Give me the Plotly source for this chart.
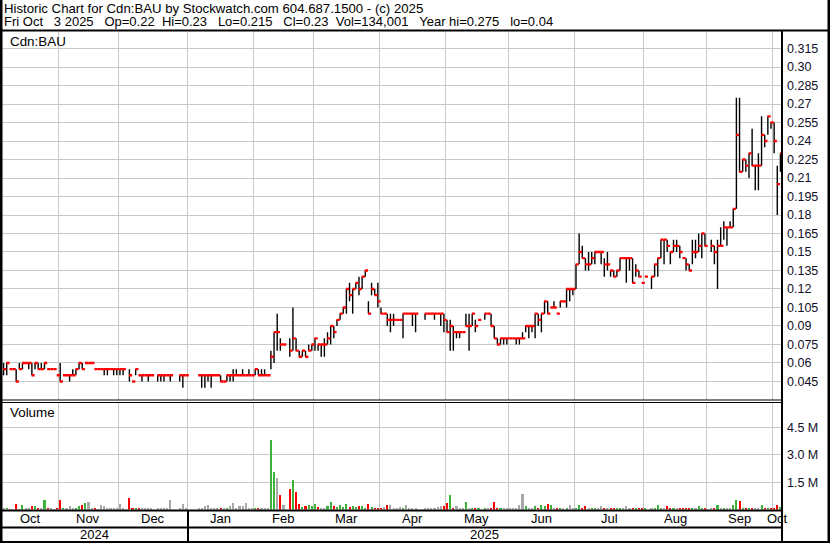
import plotly.graph_objects as go

# ---------------- data (one slot per trading day, Oct 2024 -> Oct 3 2025) ----------------
high = [
    .06, .06, .055, .055, .055, .06, .06, .06, .06, .06, .06, .06, .06, .06, .055, .055, .055, .05,
    .06, .05, .05, .05, .055, .055, .06, .06, .06, .06, .06, .055, .055, .055, .055, .055, .055, .055, .055,
    .055, .055, None, .055, .045, .055, .05, .05, .05, .05, .05, None, .05, .05, .05, .05, .05, None, None, .05, .05, .05,
    None, None, None, .05, .05, .05, .05, .05, .05, .05, .05, .045, .05, .05, .055, .055, .05, .055, .05, .055, .05,
    .055, .055, .055, .055, .05, .07, .085, .10, .08, .075, None, .08, .105, .08, .07, .07, .07, .075, .075,
    .08, .075, .075, .08, .085, .09, .09, .095, .10, .105, .12, .125, .12, .125, .13, .13, .135, .11, .125, .12, .125,
    .105, .10, .10, .10, .10, .095, .095, .10, .10, .10, .10, .10, None, None, .10, .10, .10, .10, .10, .10, .10,
    .095, .095, .09, .085, .085, .085, .10, .10, .10, .095, .095, None, .10, .10, .10, .09, .08, .08, .08, .08,
    .08, .08, .08, .08, .085, .09, .09, .09, .10, .10, .10, .11, .11, .105, .11, .10, .11, .11, .12, .12, .12,
    .14, .165, .155, .145, .15, .15, .15, .15, .15, .145, .15, .135, .135, .135, .145, .145, .145, .145, .145, .14, .135, .125,
    .13, None, .13, .14, .145, .16, .16, .16, .15, .16, .16, .155, .145, .145, .14, .16, .16, .165, .165, .165,
    None, .16, .155, .16, .17, .175, .17, .175, .185, .275, .275, .225, .225, .23, .25, .22, .23, .26, .245, .26, .255,
    .255, .22, .23,
]
low = [
    .05, .05, .055, .055, .045, .055, .055, .06, .055, .05, .055, .055, .055, .055, .055, .055, .055, .05,
    .045, .05, .05, .045, .05, .05, .055, .055, .06, .06, .06, .055, .055, .055, .05, .05, .055, .05, .05,
    .05, .05, None, .045, .045, .05, .05, .045, .05, .045, .05, None, .045, .045, .045, .05, .045, None, None, .045, .04, .05,
    None, None, None, .05, .04, .04, .045, .04, .05, .05, .045, .045, .045, .045, .045, .05, .05, .05, .05, .05, .05,
    .05, .05, .05, .05, .05, .055, .06, .07, .07, .075, None, .065, .07, .07, .065, .065, .065, .07, .07,
    .07, .07, .065, .065, .075, .075, .08, .09, .095, .10, .10, .11, .10, .12, .115, .12, .13, .10, .115, .115, .105,
    .10, .10, .09, .085, .09, .095, .095, .08, .10, .10, .09, .085, None, None, .095, .10, .10, .095, .10, .09, .085,
    .085, .07, .07, .08, .08, .085, .09, .07, .09, .085, .095, None, .095, .10, .09, .08, .075, .075, .075, .075,
    .08, .08, .075, .075, .08, .085, .08, .085, .08, .09, .085, .10, .10, .105, .105, .10, .105, .11, .105, .11, .115,
    .12, .14, .145, .135, .135, .14, .14, .15, .14, .13, .135, .13, .13, .13, .135, .145, .125, .135, .125, .13, .13, .125,
    .13, None, .12, .13, .13, .145, .14, .15, .14, .15, .15, .145, .145, .135, .135, .14, .145, .15, .145, .155,
    None, .15, .14, .12, .155, .16, .155, .17, .17, .185, .215, .215, .215, .21, .22, .20, .20, .22, .235, .245, .25,
    .23, .18, .215,
]
close = [
    .055, .06, .055, .055, .045, .055, .06, .06, .06, .05, .06, .055, .055, .06, .055, .055, .055, .05,
    .045, .05, .05, .05, .05, .055, .06, .055, .06, .06, .06, .055, .055, .055, .055, .055, .055, .055, .055,
    .055, .055, None, .05, .045, .055, .05, .05, .05, .05, .05, None, .05, .05, .05, .05, .05, None, None, .05, .05, .05,
    None, None, None, .05, .05, .05, .05, .05, .05, .05, .045, .045, .05, .05, .05, .05, .05, .05, .05, .05, .05,
    .055, .05, .05, .05, .05, .065, .085, .085, .075, .075, None, .07, .08, .07, .065, .07, .065, .07, .075,
    .08, .075, .075, .075, .08, .09, .085, .095, .10, .105, .12, .115, .12, .125, .12, .13, .135, .10, .12, .115, .11,
    .10, .10, .095, .095, .095, .095, .095, .10, .10, .10, .10, .10, None, None, .10, .10, .10, .10, .10, .10, .095,
    .085, .09, .085, .085, .085, .085, .09, .09, .10, .09, .095, None, .10, .10, .09, .08, .075, .08, .08, .08,
    .08, .08, .08, .08, .08, .09, .09, .09, .10, .095, .10, .11, .10, .105, .105, .10, .11, .11, .12, .12, .12,
    .14, .15, .145, .14, .14, .145, .15, .15, .15, .14, .14, .135, .13, .135, .145, .145, .145, .145, .125, .135, .13, .125,
    .13, None, .13, .14, .145, .16, .16, .155, .15, .155, .155, .15, .145, .14, .135, .15, .15, .155, .165, .155,
    None, .155, .15, .155, .155, .17, .17, .17, .185, .245, .215, .225, .22, .23, .22, .22, .22, .245, .24, .26, .255,
    .24, .205, .23,
]
volume_k = [
    60, 60, 40, 40, 290, 40, 230, 100, 100, 170, 170, 100, 100, 520, 60, 60, 40, 60,
    520, 60, 60, 170, 100, 100, 170, 230, 350, 400, 100, 100, 40, 230, 170, 60, 60, 60, 100,
    290, 60, 0, 635, 100, 100, 100, 60, 60, 100, 60, 0, 60, 60, 60, 60, 520, 0, 0, 60, 290, 60,
    0, 0, 0, 60, 100, 170, 230, 100, 60, 60, 60, 100, 60, 170, 350, 60, 170, 170, 350, 60, 100,
    100, 60, 60, 60, 60, 3830, 2040, 1730, 810, 230, 0, 1150, 1620, 980, 290, 115, 170, 230, 170,
    290, 115, 60, 60, 170, 400, 170, 115, 230, 115, 290, 115, 170, 115, 170, 170, 60, 290, 115, 60, 60,
    60, 115, 230, 230, 60, 60, 115, 60, 230, 60, 60, 60, 0, 0, 60, 60, 60, 60, 115, 170, 170,
    350, 810, 60, 170, 60, 60, 400, 60, 60, 60, 60, 0, 100, 100, 100, 400, 60, 60, 100, 60,
    60, 100, 100, 230, 865, 170, 100, 100, 170, 60, 230, 170, 290, 230, 100, 100, 100, 100, 100, 230, 100,
    100, 230, 100, 170, 100, 60, 60, 60, 170, 100, 100, 60, 60, 60, 60, 100, 170, 100, 60, 60, 60, 60,
    60, 0, 100, 100, 230, 60, 100, 170, 100, 60, 100, 100, 100, 100, 60, 60, 100, 170, 60, 60,
    0, 100, 60, 230, 60, 60, 60, 100, 230, 520, 460, 60, 60, 100, 100, 100, 60, 230, 100, 60, 100,
    100, 230, 134,
]
month_labels = ["Oct", "Nov", "Dec", "Jan", "Feb", "Mar", "Apr", "May", "Jun", "Jul", "Aug", "Sep", "Oct"]
month_starts = [0, 18, 37, 59, 80, 99, 120, 141, 161, 182, 204, 224, 245]
year_labels = ["2024", "2025"]
year_starts = [0, 59]
price_ticks = [0.315, 0.30, 0.285, 0.27, 0.255, 0.24, 0.225, 0.21, 0.195, 0.18, 0.165, 0.15,
               0.135, 0.12, 0.105, 0.09, 0.075, 0.06, 0.045]
price_ticktext = ["0.315", "0.30", "0.285", "0.27", "0.255", "0.24", "0.225", "0.21", "0.195", "0.18",
                  "0.165", "0.15", "0.135", "0.12", "0.105", "0.09", "0.075", "0.06", "0.045"]
vol_ticks = [1.5e6, 3.0e6, 4.5e6]
vol_ticktext = ["1.5 M", "3.0 M", "4.5 M"]
NB = "\u00a0"
header1 = "Historic Chart for Cdn:BAU by Stockwatch.com 604.687.1500 - (c) 2025"
header2 = ("Fri Oct" + NB * 3 + "3 2025" + NB * 3 + "Op=0.22" + NB * 2 + "Hi=0.23" + NB * 3 +
           "Lo=0.215" + NB * 3 + "Cl=0.23" + NB * 2 + "Vol=134,001" + NB * 3 + "Year hi=0.275" +
           NB * 3 + "lo=0.04")

# ---------------- figure ----------------
W, H = 830, 543
N = len(close)
FONT = "Liberation Sans, Arial, sans-serif"
GRID = "#c8c8c8"
TXT = "#101028"


def px(x):
    return x / W


def py(y):
    return 1 - y / H


hl_x, hl_y, cl_x, cl_y = [], [], [], []
for i in range(N):
    if close[i] is None:
        continue
    if high[i] != low[i]:
        hl_x += [i, i, None]
        hl_y += [low[i], high[i], None]
    cl_x += [i - 0.12, i + 0.88, None]
    cl_y += [close[i], close[i], None]

vol = [v * 1000 for v in volume_k]
vol_colors = []
prev = None
for c in close:
    if c is None or prev is None or c == prev:
        vol_colors.append("#a8a8a8")
    elif c > prev:
        vol_colors.append("#3cb43c")
    else:
        vol_colors.append("#ff0000")
    if c is not None:
        prev = c

fig = go.Figure()
fig.add_trace(go.Scatter(x=hl_x, y=hl_y, mode="lines", line=dict(color="black", width=1.4),
                         hoverinfo="skip", showlegend=False, xaxis="x", yaxis="y"))
fig.add_trace(go.Scatter(x=cl_x, y=cl_y, mode="lines", line=dict(color="#ff0000", width=2.4),
                         hoverinfo="skip", showlegend=False, xaxis="x", yaxis="y"))
fig.add_trace(go.Bar(x=list(range(N)), y=vol, marker=dict(color=vol_colors, line=dict(width=0)),
                     width=0.66, showlegend=False, xaxis="x2", yaxis="y2"))

bounds = [s - 0.5 for s in month_starts[1:]]
xcommon = dict(range=[-0.5, N - 0.5], domain=[px(2), px(782)], tickvals=bounds,
               showticklabels=False, ticks="", showgrid=True, gridcolor=GRID, gridwidth=1,
               zeroline=False, showline=False, fixedrange=True)

fig.update_layout(
    width=W, height=H, autosize=False,
    margin=dict(l=0, r=0, t=0, b=0),
    paper_bgcolor="white", plot_bgcolor="white",
    bargap=0,
    xaxis=dict(**xcommon, anchor="y"),
    xaxis2=dict(**xcommon, anchor="y2"),
    yaxis=dict(domain=[py(399.5), py(32)], range=[0.3150 - (399.5 - 48.5) / 1233.3, 0.315 + (48.5 - 32) / 1233.3],
               side="right", tickvals=price_ticks, ticktext=price_ticktext, ticks="",
               tickfont=dict(family=FONT, size=12.5, color=TXT), showgrid=True, gridcolor=GRID,
               zeroline=False, showline=False, anchor="x", ticklabelstandoff=4, fixedrange=True),
    yaxis2=dict(domain=[py(509.5), py(403)], range=[0, 106.5 / 27.3 * 1.5e6],
                side="right", tickvals=vol_ticks, ticktext=vol_ticktext, ticks="",
                tickfont=dict(family=FONT, size=12.5, color=TXT), showgrid=True, gridcolor=GRID,
                zeroline=False, showline=False, anchor="x2", ticklabelstandoff=4, fixedrange=True),
)

# frame lines (drawn as thin filled rectangles)
rects = [
    (0, 0, 2.5, 543),        # left border
    (827.5, 0, 830, 543),    # right border
    (0, 29.5, 830, 31.5),    # under header
    (781, 31, 783, 543),     # right axis column divider
    (0, 399.5, 782, 400.5),  # double separator
    (0, 402, 782, 403),
    (0, 509.5, 782, 511.5),  # bottom of volume panel
    (0, 526.5, 782, 528.5),  # under month row
    (0, 541, 830, 543),      # bottom border
    (187, 511, 189, 541),    # year divider
]
for x0, y0, x1, y1 in rects:
    fig.add_shape(type="rect", xref="paper", yref="paper", x0=px(x0), x1=px(x1), y0=py(y1), y1=py(y0),
                  fillcolor="black", line=dict(width=0), layer="above")

ann = []
ann.append(dict(text=header1, x=px(2), y=py(8.5), xanchor="left", yanchor="middle", size=13.2))
ann.append(dict(text=header2, x=px(2), y=py(21.5), xanchor="left", yanchor="middle", size=13))
ann.append(dict(text="Cdn:BAU", x=px(8), y=py(41), xanchor="left", yanchor="middle", size=13.4))
ann.append(dict(text="Volume", x=px(8), y=py(413), xanchor="left", yanchor="middle", size=13.4))
for a in ann:
    s = a.pop("size")
    a.update(xref="paper", yref="paper", showarrow=False, font=dict(family=FONT, size=s, color="black"))

ends = month_starts[1:] + [N]
for lab, s, e in zip(month_labels, month_starts, ends):
    ann.append(dict(text=lab, x=(s + e - 1) / 2, xref="x", y=py(518.5), yref="paper", showarrow=False,
                    xanchor="center", yanchor="middle", font=dict(family=FONT, size=13, color="black")))
yends = year_starts[1:] + [N]
for lab, s, e in zip(year_labels, year_starts, yends):
    ann.append(dict(text=lab, x=(s + e - 1) / 2, xref="x", y=py(534.5), yref="paper", showarrow=False,
                    xanchor="center", yanchor="middle", font=dict(family=FONT, size=13, color="black")))
fig.update_layout(annotations=ann)

fig.write_html("out.html", config={"displayModeBar": False, "staticPlot": True},
               post_script="document.body.style.margin='0';document.body.style.padding='0';")
